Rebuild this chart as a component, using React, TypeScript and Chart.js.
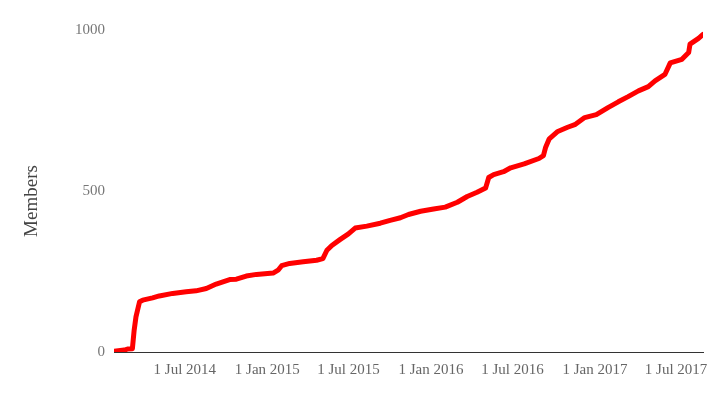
import React, { useEffect, useRef } from "react";
import { Chart, registerables } from "chart.js";

Chart.register(...registerables);

const dates: string[] = [
  "2014-01-24", "2014-02-16", "2014-02-23", "2014-03-06", "2014-03-10", "2014-03-14",
  "2014-03-22", "2014-03-29", "2014-04-20", "2014-05-05", "2014-06-04", "2014-07-04",
  "2014-07-26", "2014-08-18", "2014-09-09", "2014-10-09", "2014-10-24", "2014-11-15",
  "2014-12-08", "2015-01-14", "2015-01-25", "2015-02-02", "2015-02-20", "2015-03-22",
  "2015-04-21", "2015-05-05", "2015-05-14", "2015-05-25", "2015-06-12", "2015-07-01",
  "2015-07-16", "2015-08-11", "2015-09-10", "2015-10-02", "2015-10-25", "2015-11-12",
  "2015-12-09", "2016-01-07", "2016-02-02", "2016-02-29", "2016-03-22", "2016-04-13",
  "2016-05-02", "2016-05-09", "2016-05-20", "2016-06-11", "2016-06-27", "2016-07-27",
  "2016-08-29", "2016-09-08", "2016-09-13", "2016-09-21", "2016-10-10", "2016-11-01",
  "2016-11-17", "2016-12-09", "2017-01-04", "2017-01-30", "2017-02-22", "2017-03-16",
  "2017-04-08", "2017-04-30", "2017-05-15", "2017-06-06", "2017-06-18", "2017-07-14",
  "2017-07-29", "2017-08-01", "2017-08-20", "2017-08-30",
];

const members: number[] = [
  2, 6, 9, 10, 68, 109,
  156, 161, 168, 174, 182, 187,
  190, 197, 211, 225, 226, 236,
  241, 245, 254, 268, 275, 280,
  285, 290, 316, 331, 349, 367,
  385, 391, 400, 409, 417, 427,
  437, 444, 450, 465, 483, 496,
  509, 542, 551, 560, 572, 584,
  601, 610, 636, 662, 685, 698,
  706, 728, 737, 759, 777, 793,
  811, 824, 842, 862, 898, 909,
  930, 956, 974, 986,
];

const tickDates: string[] = [
  "2014-07-01", "2015-01-01", "2015-07-01", "2016-01-01",
  "2016-07-01", "2017-01-01", "2017-07-01",
];

const yTicks: number[] = [0, 500, 1000];
const yTitle = "Members";
const monthNames = ["Jan", "Feb", "Mar", "Apr", "May", "Jun", "Jul", "Aug", "Sep", "Oct", "Nov", "Dec"];

const toTs = (s: string) => {
  const [y, m, d] = s.split("-").map(Number);
  return Date.UTC(y, m - 1, d);
};
const fmt = (ts: number) => {
  const d = new Date(ts);
  return `${d.getUTCDate()} ${monthNames[d.getUTCMonth()]} ${d.getUTCFullYear()}`;
};

const FONT = "'Liberation Serif', serif";

const titlePlugin = {
  id: "yTitlePlugin",
  afterDraw(chart: any) {
    const ctx = chart.ctx;
    const area = chart.chartArea;
    ctx.save();
    ctx.translate(32, (area.top + area.bottom) / 2 + 10);
    ctx.rotate(-Math.PI / 2);
    ctx.font = `19px ${FONT}`;
    ctx.fillStyle = "#444";
    ctx.textAlign = "center";
    ctx.textBaseline = "middle";
    ctx.fillText(yTitle, 0, 0);
    ctx.restore();
  },
};

export default function App() {
  const ref = useRef<HTMLCanvasElement>(null);
  useEffect(() => {
    if (!ref.current) return;
    const pts = dates.map((d, i) => ({ x: toTs(d), y: members[i] }));
    const chart = new Chart(ref.current, {
      type: "line",
      data: {
        datasets: [
          {
            data: pts,
            borderColor: "#ff0000",
            backgroundColor: "#ff0000",
            borderWidth: 5,
            pointRadius: 0,
            tension: 0,
            borderJoinStyle: "round",
            borderCapStyle: "round",
          },
        ],
      },
      options: {
        animation: false,
        responsive: true,
        maintainAspectRatio: false,
        parsing: false,
        layout: { padding: { left: 0, right: 20, top: 30, bottom: 0 } },
        plugins: { legend: { display: false }, tooltip: { enabled: false } },
        scales: {
          x: {
            type: "linear",
            min: toTs(dates[0]),
            max: toTs(dates[dates.length - 1]),
            grid: { display: false, drawTicks: false },
            border: { display: true, color: "#333", width: 1 },
            afterBuildTicks: (scale: any) => {
              scale.ticks = tickDates.map((d) => ({ value: toTs(d) }));
            },
            afterFit: (scale: any) => {
              scale.height = 48;
            },
            ticks: {
              autoSkip: false,
              maxRotation: 0,
              padding: 9,
              color: "#666",
              font: { family: FONT, size: 15 },
              callback: (v: any) => fmt(Number(v)),
            },
          },
          y: {
            min: 0,
            max: 1000,
            grid: { display: false, drawTicks: false },
            border: { display: false },
            afterBuildTicks: (scale: any) => {
              scale.ticks = yTicks.map((v) => ({ value: v }));
            },
            afterFit: (scale: any) => {
              scale.width = 114;
            },
            ticks: {
              padding: 9,
              color: "#777",
              font: { family: FONT, size: 15 },
              callback: (v: any) => String(v),
            },
          },
        },
      },
      plugins: [titlePlugin],
    } as any);
    return () => chart.destroy();
  }, []);
  return (
    <div style={{ position: "fixed", left: 0, top: 0, width: 723, height: 400 }}>
      <canvas ref={ref} />
    </div>
  );
}
